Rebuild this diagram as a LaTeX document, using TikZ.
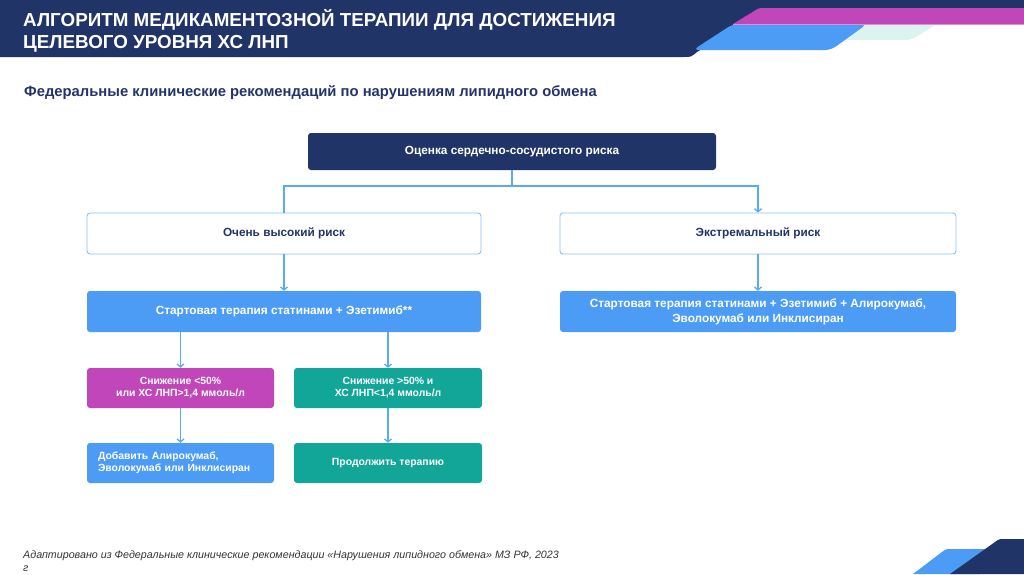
\documentclass[tikz,border=0pt]{standalone}
\usepackage{fontspec}
\setmainfont{Liberation Sans}
\usetikzlibrary{arrows.meta,calc}
\definecolor{navy}{HTML}{213468}
\definecolor{navytext}{HTML}{23346A}
\definecolor{magentab}{HTML}{C046B9}
\definecolor{blueb}{HTML}{4C9CF6}
\definecolor{tealb}{HTML}{12A698}
\definecolor{mintb}{HTML}{DCF4EF}
\definecolor{arrowc}{HTML}{5AAAF0}
\definecolor{borderc}{HTML}{8CC2F2}
\definecolor{foot}{HTML}{333333}
\begin{document}
\begin{tikzpicture}[x=1pt,y=-1pt,
  boxbase/.style={rounded corners=3pt, inner sep=0pt, align=center,
    font=\fontsize{11.8}{15}\selectfont\bfseries},
  darkbox/.style={boxbase, fill=navy, text=white},
  whitebox/.style={boxbase, fill=white, draw=borderc, line width=0.9pt, text=navytext},
  bluebox/.style={boxbase, fill=blueb, text=white},
  magbox/.style={boxbase, fill=magentab, text=white, font=\fontsize{10.4}{12}\selectfont\bfseries},
  tealbox/.style={boxbase, fill=tealb, text=white, font=\fontsize{10.4}{12}\selectfont\bfseries},
  smallblue/.style={boxbase, fill=blueb, text=white, font=\fontsize{10.4}{12}\selectfont\bfseries},
  wide/.style={minimum width=394pt, minimum height=41pt},
  narrow/.style={minimum width=187pt, minimum height=40pt},
  link/.style={draw=arrowc, line width=1.3pt},
  conn/.style={link, -{Straight Barb[length=3pt,width=7pt]}}
]
\useasboundingbox (0,0) rectangle (1024,574);
% header decoration
\fill[navy] (0,0) rectangle (1024,10);
\fill[navy] (0,0) -- (780,0) -- (697,52) .. controls (691,57) .. (684,57) -- (0,57) -- cycle;
\fill[mintb, rounded corners=6pt] (820,24) -- (937,24) -- (911,40) -- (820,40) -- cycle;
\fill[blueb, rounded corners=6pt] (693,50) -- (733,24) -- (867,24) -- (831,50) -- cycle;
\fill[magentab] (733,24) -- (755,10.5) .. controls (759,8) .. (765,8) -- (1024,8) -- (1024,24) -- cycle;
\fill[magentab!60] (733,24) rectangle (1024,25);
% bottom right decoration
\fill[blueb] (913,574) -- (942,552) .. controls (946,549) .. (951,549) -- (1000,549) -- (980,574) -- cycle;
\fill[navy] (950,574) -- (995,542) .. controls (999,539) .. (1005,539) -- (1024,539) -- (1024,574) -- cycle;
% titles
\node[anchor=base west, inner sep=0pt, text=white, font=\fontsize{18.8}{22}\selectfont\bfseries] (t1) at (23,26) {АЛГОРИТМ МЕДИКАМЕНТОЗНОЙ ТЕРАПИИ ДЛЯ ДОСТИЖЕНИЯ};
\node[anchor=base west, inner sep=0pt, text=white, font=\fontsize{18.8}{22}\selectfont\bfseries] (t2) at (23,48) {ЦЕЛЕВОГО УРОВНЯ ХС ЛНП};
\node[anchor=base west, inner sep=0pt, text=navytext, font=\fontsize{14.8}{17}\selectfont\bfseries] (sub) at (24,96) {Федеральные клинические рекомендаций по нарушениям липидного обмена};
% boxes
\node[darkbox, minimum width=408pt, minimum height=37pt] (risk) at (512,151.5) {Оценка сердечно-сосудистого риска};
\node[whitebox, wide] (vh) at (284,233.5) {Очень высокий риск};
\node[whitebox, wide, minimum width=396pt] (ext) at (758,233.5) {Экстремальный риск};
\node[bluebox, wide] (ls) at (284,311.5) {Стартовая терапия статинами + Эзетимиб**};
\node[bluebox, wide, minimum width=396pt] (rs) at (758,311.5) {Стартовая терапия статинами + Эзетимиб + Алирокумаб,\\Эволокумаб или Инклисиран};
\node[magbox, narrow] (mag) at (180.5,388) {Снижение <50\%\\или ХС ЛНП>1,4 ммоль/л};
\node[tealbox, narrow, minimum width=188pt] (tl) at (388,388) {Снижение >50\% и\\ХС ЛНП<1,4 ммоль/л};
\node[smallblue, align=left, text width=165pt, inner xsep=11pt, minimum height=40pt] (add) at (180.5,463) {Добавить Алирокумаб,\\Эволокумаб или Инклисиран};
\node[tealbox, narrow, minimum width=188pt] (cont) at (388,463) {Продолжить терапию};
% connectors
\coordinate (j) at (512,186);
\draw[link] (risk.south) -- (j);
\draw[link] (j) -| (vh.north);
\draw[conn] (j) -| (ext.north);
\draw[conn] (vh.south) -- (ls.north);
\draw[conn] (ext.south) -- (rs.north);
\draw[conn] (mag.north |- ls.south) -- (mag.north);
\draw[conn] (tl.north |- ls.south) -- (tl.north);
\draw[conn] (mag.south) -- (add.north);
\draw[conn] (tl.south) -- (cont.north);
% footnote
\node[anchor=base west, inner sep=0pt, text=foot, font=\fontsize{10.7}{13}\selectfont\itshape, align=left] (fn) at (23,571) {Адаптировано из Федеральные клинические рекомендации «Нарушения липидного обмена» МЗ РФ, 2023\\г};
\end{tikzpicture}
\end{document}
